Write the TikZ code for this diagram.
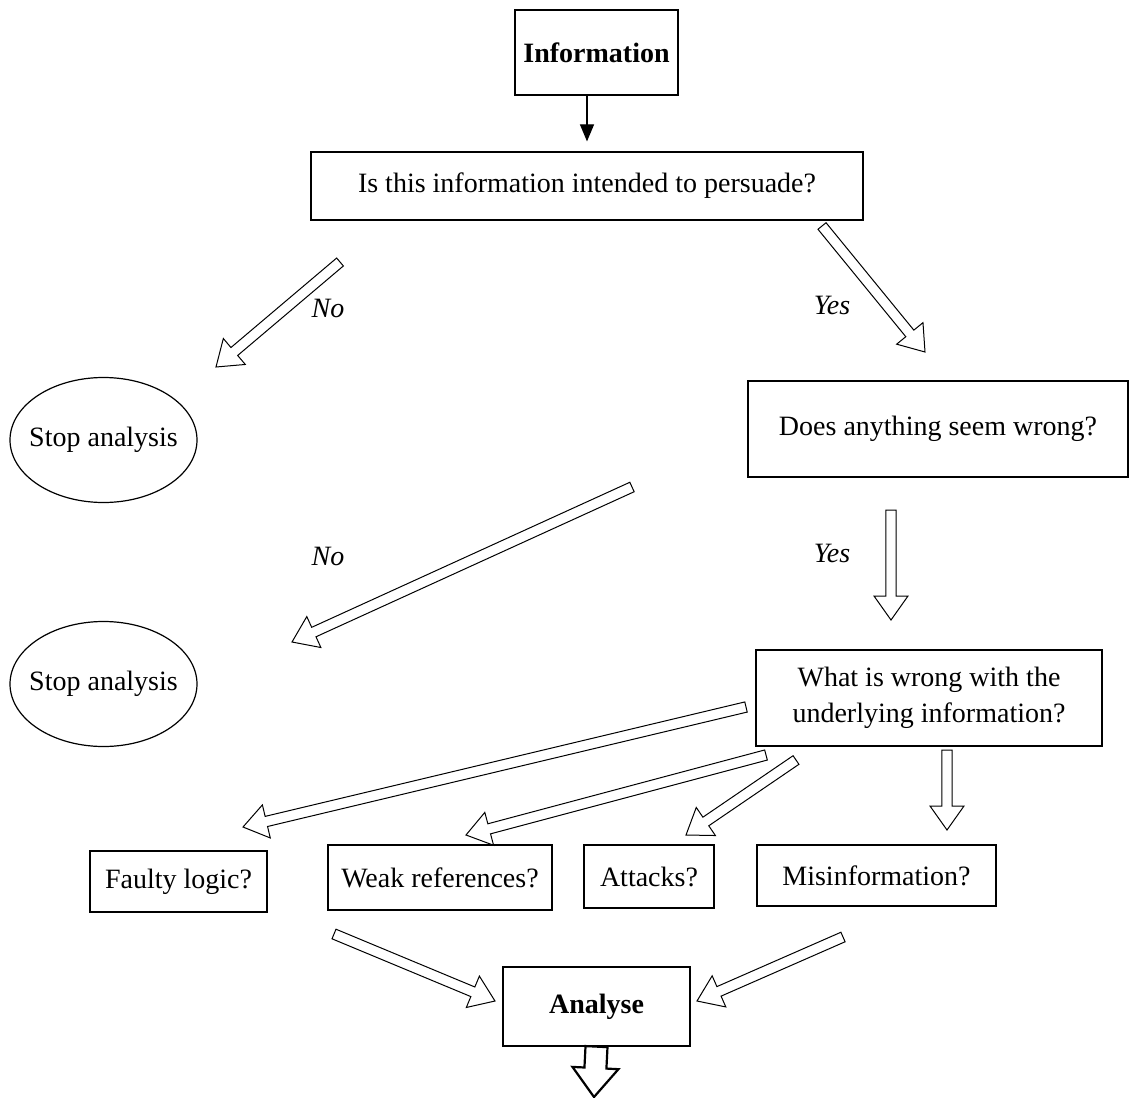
\documentclass[tikz,border=0pt]{standalone}
\usepackage{fontspec}
\setmainfont{Liberation Serif}
\usetikzlibrary{calc,arrows.meta,shapes.geometric}

% hollow block arrow: [style]{from}{to}{shaft half width}{head half width}{head length}
\newcommand\blockarrow[6][]{%
  \coordinate (headbase) at ($(#3)!#6!(#2)$);
  \draw[barrow,#1] ($(#2)!#4!90:(#3)$) -- ($(headbase)!#4!90:(#3)$)
    -- ($(headbase)!#5!90:(#3)$) -- (#3) -- ($(headbase)!#5!-90:(#3)$)
    -- ($(headbase)!#4!-90:(#3)$) -- ($(#2)!#4!-90:(#3)$) -- cycle;}
\newcommand\flowarrow[2]{\blockarrow{#1}{#2}{2.6pt}{8.5pt}{12pt}}

\tikzset{
  txt/.style={font=\fontsize{14}{18}\selectfont},
  box/.style={draw, line width=0.6pt, inner sep=2pt, align=center, txt},
  oval/.style={draw, ellipse, line width=0.6pt, inner xsep=-10pt, inner ysep=0pt, txt,
    minimum width=93.5pt, minimum height=62.5pt},
  barrow/.style={draw, line width=0.5pt, fill=white, line join=miter},
  lab/.style={font=\fontsize{14}{18}\selectfont\itshape},
  boldtxt/.style={font=\fontsize{14}{18}\selectfont\bfseries},
}

\begin{document}
\begin{tikzpicture}[x=0.5pt, y=-0.5pt]
\useasboundingbox (0,0) rectangle (1129,1097);

% boxes
\node[box, boldtxt, minimum width=81.5pt, minimum height=42.5pt] (info) at (596.5,52.5) {Information};
\node[box, minimum width=276pt, minimum height=34pt] (persuade) at (587,186)
  {Is this information intended to persuade?};
\node[box, minimum width=190pt, minimum height=48pt] (wrong) at (938,429)
  {Does anything seem wrong?};
\node[box, minimum width=173pt, minimum height=48pt] (what) at (929,698)
  {What is wrong with the\\underlying information?};
\node[box, minimum width=88.5pt, minimum height=30.5pt] (faulty) at (178.5,881.5) {Faulty logic?};
\node[box, minimum width=112pt, minimum height=32.5pt] (weak) at (440,877.5) {Weak references?};
\node[box, minimum width=65pt, minimum height=31.5pt] (attacks) at (649,876.5) {Attacks?};
\node[box, minimum width=119.5pt, minimum height=30.5pt] (misinfo) at (876.5,875.5) {Misinformation?};
\node[box, boldtxt, minimum width=93.5pt, minimum height=39.5pt] (analyse) at (596.5,1006.5) {Analyse};

% terminators
\node[oval] (stop1) at (103.5,440) {Stop analysis};
\node[oval] (stop2) at (103.5,684) {Stop analysis};

% first connector
\draw[line width=0.6pt, shorten >=5pt, -{Triangle[length=8.5pt, width=7pt]}]
  (info.south -| persuade.north) -- (persuade.north);

% block arrow end points
\coordinate (n1s) at (340,262);  \coordinate (n1e) at (216,367);
\coordinate (y1s) at (822,226);  \coordinate (y1e) at (925,352);
\coordinate (n2s) at (632,487);  \coordinate (n2e) at (292,642);
\coordinate (y2s) at (891,510);  \coordinate (y2e) at (891,620);
\coordinate (f1s) at (746,707);  \coordinate (f1e) at (243,827);
\coordinate (f2s) at (766,755);  \coordinate (f2e) at (466,835);
\coordinate (f3s) at (796,760);  \coordinate (f3e) at (686,835);
\coordinate (f4s) at (947,750);  \coordinate (f4e) at (947,830);
\coordinate (a1s) at (334,934);  \coordinate (a1e) at (495,1001);
\coordinate (a2s) at (843,937);  \coordinate (a2e) at (697,1001);
\coordinate (outs) at (analyse.south); \coordinate (oute) at (594,1097);

\flowarrow{n1s}{n1e}
\flowarrow{y1s}{y1e}
\flowarrow{n2s}{n2e}
\flowarrow{y2s}{y2e}
\flowarrow{f1s}{f1e}
\flowarrow{f2s}{f2e}
\flowarrow{f3s}{f3e}
\flowarrow{f4s}{f4e}
\flowarrow{a1s}{a1e}
\flowarrow{a2s}{a2e}
\blockarrow[line width=1.1pt]{outs}{oute}{5.5pt}{11.5pt}{14.5pt}

% branch labels
\node[lab] at (328,308) {No};
\node[lab] at (832,305) {Yes};
\node[lab] at (328,556) {No};
\node[lab] at (832,553) {Yes};
\end{tikzpicture}
\end{document}
